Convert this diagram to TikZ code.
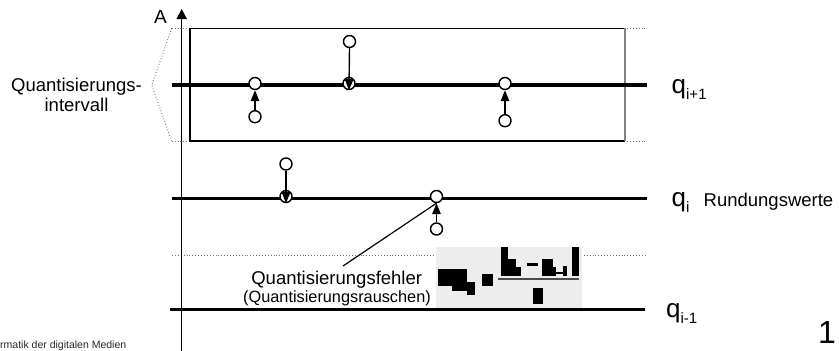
\documentclass[tikz,border=0pt]{standalone}
\usepackage{fontspec}
\setmainfont{Liberation Sans}
\usetikzlibrary{arrows.meta}
\begin{document}
\begin{tikzpicture}[x=1pt,y=-1pt,
  qline/.style={line width=3.6pt},
  dotline/.style={dotted, draw=black!55, line width=0.9pt},
  pt/.style={circle, draw, fill=white, line width=1.4pt, minimum size=12pt, inner sep=0pt},
  arr/.style={line width=1.4pt, -{Triangle[width=8.5pt,length=11pt]}},
  lbl/.style={inner sep=0pt, font=\fontsize{18.5}{20}\selectfont},
  blk/.style={fill=black}
]
\useasboundingbox (0,0) rectangle (839,351);
% dotted guide lines
\draw[dotline] (171.7,28.3) -- (647,28.3);
\draw[dotline] (171.7,141) -- (647,141);
\draw[dotline] (172,255) -- (647,255);
\draw[dotline] (171.7,28.3) -- (151.7,85) -- (171.7,141);
% grey formula box
\fill[black!7] (436,247) rectangle (582,308);
\fill[blk] (438.3,269.3) rectangle (467,285.7);
\fill[blk] (452,285) rectangle (467,291);
\fill[blk] (467,282) rectangle (475,294.5);
\fill[blk] (481.7,274.3) rectangle (493.3,286);
\draw[line width=1.2pt, black!70] (498,279) -- (578.5,279);
\fill[blk] (500.7,246.7) rectangle (508.3,276);
\fill[blk] (508,259) rectangle (516,276);
\fill[blk] (516,266.7) rectangle (520.7,276);
\fill[blk] (526.7,263.3) rectangle (537.7,266);
\fill[blk] (541.7,259.3) rectangle (552.7,276);
\fill[blk] (552.7,266.7) rectangle (556,276);
\fill[blk] (556,271.5) rectangle (563.3,273.5);
\fill[blk] (563.3,266) rectangle (567.3,276);
\fill[blk] (571.7,246.7) rectangle (578.7,276);
\fill[blk] (533.3,287.7) rectangle (543.3,304.3);
% quantisation interval box
\draw[line width=1.3pt] (625,28.3) -- (190,28.3) -- (190,141) -- (625,141);
\draw[line width=1.8pt, black!50] (625,28.3) -- (625,141);
% axis
\coordinate (axb) at (181.7,351);
\coordinate (axt) at (181.7,9);
\draw[line width=1.5pt, -{Triangle[width=10pt,length=10pt]}] (axb) -- (axt);
\node[inner sep=0pt, anchor=base west, font=\fontsize{19}{19}\selectfont] (A) at (154,23.5) {A};
% quantisation levels
\draw[qline] (171.7,85) -- (646.7,85);
\draw[qline] (171.7,198.3) -- (646.7,198.3);
\draw[qline] (170,309.5) -- (645,309.5);
% sample points
\node[pt] (c1) at (255,83.5) {};
\node[pt] (c1b) at (255,116.7) {};
\node[pt] (c2t) at (349.5,41.5) {};
\node[pt] (c2) at (349,83.5) {};
\node[pt] (c3) at (505,83.5) {};
\node[pt] (c3b) at (505,120.7) {};
\node[pt] (c4t) at (286,164) {};
\node[pt] (c4) at (286,196.5) {};
\node[pt] (c5) at (436.5,196.5) {};
\node[pt] (c5b) at (436.5,229) {};
\draw[arr] (c1b.north) -- (c1.south);
\draw[arr] (c2t.south) -- (c2.south);
\draw[arr] (c3b.north) -- (c3.south);
\draw[arr] (c4t.south) -- (c4.south);
\draw[arr] (c5b.north) -- (c5.south);
% labels
\node[lbl, anchor=base] (qint1) at (76.5,91.7) {Quantisierungs-};
\node[lbl, anchor=base] (qint2) at (76.5,111) {intervall};
\node[lbl, anchor=base] (fehler) at (336.7,284.3) {Quantisierungsfehler};
\node[inner sep=0pt, anchor=base, font=\fontsize{16.3}{16}\selectfont] (rausch) at (337,302.5) {(Quantisierungsrauschen)};
\coordinate (ptr) at (343,266);
\draw[line width=1.2pt] (ptr) -- (c5.south);
\node[inner sep=0pt, anchor=base west, font=\fontsize{26}{26}\selectfont] (qa) at (671.5,93.3) {q\raisebox{-6pt}{\fontsize{15}{15}\selectfont i+1}};
\node[inner sep=0pt, anchor=base west, font=\fontsize{26}{26}\selectfont] (qb) at (671.5,206.7) {q\raisebox{-6pt}{\fontsize{15}{15}\selectfont i}};
\node[lbl, anchor=base west] (rund) at (703.5,206.5) {Rundungswerte};
\node[inner sep=0pt, anchor=base west, font=\fontsize{26}{26}\selectfont] (qc) at (666,317.5) {q\raisebox{-6pt}{\fontsize{15}{15}\selectfont i-1}};
\node[inner sep=0pt, anchor=base east, font=\fontsize{32}{32}\selectfont] (pg) at (836,343) {1};
\node[inner sep=0pt, anchor=base west, font=\fontsize{10.5}{10.5}\selectfont, text=black!85] (foot) at (0,348.3) {rmatik der digitalen Medien};
\end{tikzpicture}
\end{document}
